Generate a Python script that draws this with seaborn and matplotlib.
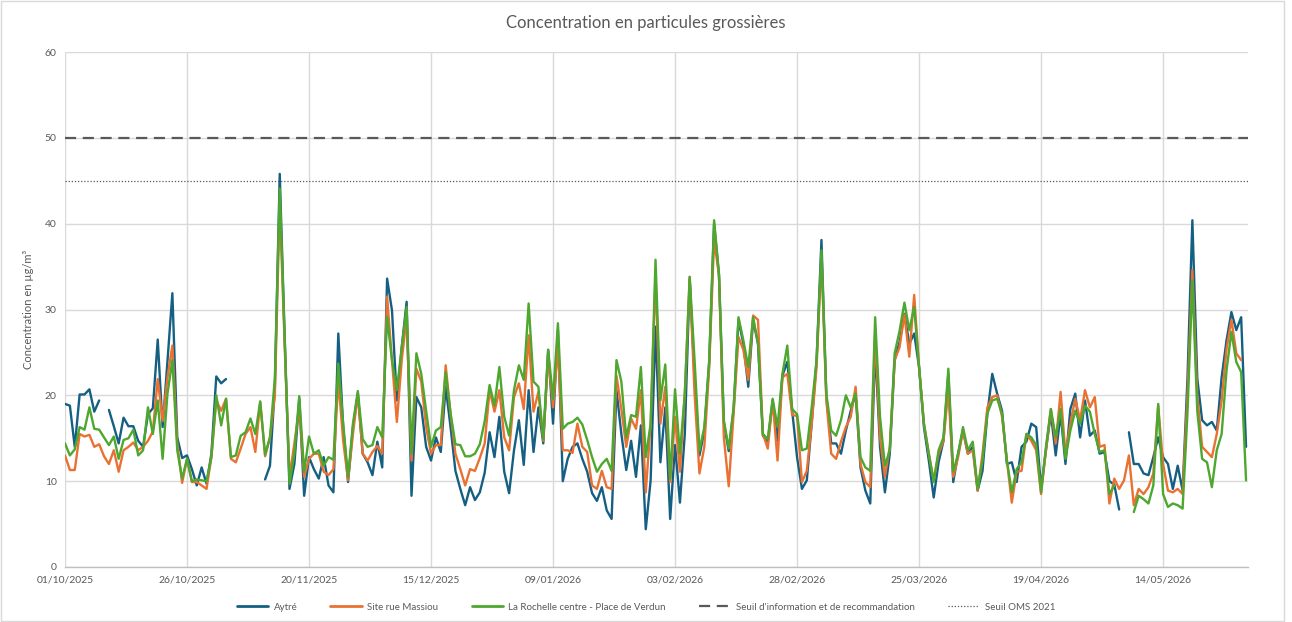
import numpy as np
import pandas as pd
import matplotlib
matplotlib.use("Agg")
import matplotlib.pyplot as plt
import matplotlib.dates as mdates
from matplotlib.lines import Line2D
from matplotlib.patches import Rectangle
import seaborn as sns

nan = np.nan
start_date = "2025-10-01"
n_days = 243

aytre = [
    19.0, 18.8, 14.0, 20.1, 20.1, 20.7, 18.1, 19.4, nan, 18.3,
    16.4, 14.4, 17.4, 16.4, 16.4, 14.7, 14.0, 17.8, 18.5, 26.5,
    16.3, 24.0, 31.9, 15.1, 12.7, 13.0, 11.4, 9.5, 11.6, 9.7,
    13.2, 22.2, 21.4, 21.9, nan, nan, nan, nan, nan, nan,
    nan, 10.2, 11.8, 21.0, 45.8, 27.0, 9.1, 12.0, 19.6, 8.3,
    12.8, 11.4, 10.3, 12.8, 9.5, 8.7, 27.2, 16.3, 9.9, 16.3,
    20.2, 13.2, 12.2, 10.7, 14.6, 11.6, 33.6, 29.9, 19.4, 25.6,
    30.9, 8.3, 19.8, 18.6, 14.0, 12.4, 15.1, 13.4, 21.0, 16.3,
    11.2, 9.1, 7.2, 9.3, 7.8, 8.7, 11.0, 15.7, 12.8, 17.5,
    11.1, 8.6, 13.6, 17.1, 11.9, 20.6, 13.4, 18.6, 14.4, 25.3,
    16.7, 27.6, 10.0, 12.6, 14.0, 14.4, 12.6, 11.1, 8.6, 7.7,
    9.3, 6.6, 5.6, 20.6, 15.5, 11.3, 14.7, 10.5, 16.5, 4.4,
    10.1, 28.0, 12.2, 18.6, 5.6, 14.2, 7.5, 15.5, 33.5, 22.0,
    13.0, 15.8, 23.8, 40.0, 34.0, 16.8, 13.5, 18.3, 28.8, 26.0,
    21.0, 28.8, 26.0, 15.3, 14.6, 19.4, 14.7, 22.3, 23.9, 18.2,
    12.8, 9.1, 10.1, 16.7, 24.1, 38.1, 19.8, 14.4, 14.4, 13.2,
    15.9, 18.2, 20.2, 11.6, 8.9, 7.4, 25.6, 14.0, 8.7, 13.2,
    24.1, 26.2, 29.5, 26.0, 27.2, 23.3, 16.3, 12.4, 8.1, 12.2,
    14.7, 22.5, 9.9, 13.2, 15.9, 13.2, 14.0, 8.9, 11.2, 17.9,
    22.5, 20.2, 18.2, 12.0, 12.2, 9.9, 14.0, 14.6, 16.7, 16.3,
    9.1, 13.6, 17.9, 13.0, 17.9, 12.0, 18.4, 20.2, 15.1, 19.4,
    15.3, 15.9, 13.2, 13.4, 10.0, 9.6, 6.7, nan, 15.7, 12.0,
    12.0, 10.9, 10.7, 12.8, 15.1, 12.8, 12.0, 9.1, 11.8, 8.9,
    22.0, 40.4, 22.0, 17.1, 16.5, 16.9, 15.9, 22.1, 26.4, 29.7,
    27.6, 29.1, 14.0,
]

massiou = [
    13.0, 11.3, 11.3, 15.5, 15.2, 15.4, 14.0, 14.3, 12.9, 12.0,
    13.6, 11.1, 13.6, 14.0, 14.5, 13.6, 14.0, 14.7, 15.8, 21.9,
    17.0, 22.1, 25.8, 14.4, 9.8, 12.6, 9.9, 9.9, 9.5, 9.1,
    12.8, 19.4, 18.2, 19.6, 12.6, 12.2, 13.8, 15.5, 16.3, 13.4,
    19.2, 12.9, 15.1, 20.0, 42.4, 26.0, 10.5, 14.4, 18.6, 10.5,
    12.6, 13.2, 13.2, 11.1, 10.7, 11.4, 21.8, 14.7, 10.1, 15.5,
    20.2, 13.2, 12.4, 13.4, 14.1, 13.2, 31.5, 24.1, 16.9, 24.1,
    29.1, 12.4, 23.1, 21.6, 16.3, 13.2, 14.2, 14.2, 23.5, 17.9,
    13.2, 11.4, 9.5, 11.4, 11.2, 12.7, 14.4, 20.6, 18.1, 20.6,
    15.1, 13.6, 19.8, 21.4, 18.4, 27.0, 18.1, 20.4, 14.7, 24.5,
    18.6, 25.6, 13.6, 13.6, 13.3, 16.7, 14.0, 13.4, 9.5, 9.1,
    11.2, 9.3, 9.1, 22.3, 18.4, 14.0, 17.3, 16.1, 20.6, 8.7,
    16.7, 34.0, 16.7, 21.0, 9.9, 17.5, 11.1, 20.2, 33.8, 20.2,
    10.9, 14.0, 23.3, 38.1, 34.0, 15.1, 9.4, 17.9, 26.8, 25.3,
    21.8, 29.3, 28.8, 15.5, 13.8, 19.4, 12.4, 22.1, 22.5, 17.7,
    17.6, 9.9, 11.2, 16.7, 23.3, 36.1, 19.4, 13.2, 12.6, 14.6,
    16.3, 17.5, 21.0, 12.0, 9.9, 9.3, 27.2, 15.1, 10.5, 14.0,
    24.1, 25.6, 29.4, 24.5, 31.7, 23.3, 16.7, 13.2, 10.1, 13.2,
    14.7, 20.6, 10.5, 12.8, 15.9, 13.2, 13.6, 8.9, 13.2, 18.6,
    19.8, 20.0, 17.5, 12.4, 7.5, 11.1, 11.2, 15.5, 14.7, 13.6,
    8.5, 13.6, 18.4, 14.4, 20.4, 13.2, 16.7, 19.6, 17.1, 20.6,
    18.6, 19.8, 14.0, 14.2, 7.4, 10.3, 9.1, 10.1, 13.0, 7.2,
    9.1, 8.5, 9.3, 10.9, 18.8, 12.0, 8.9, 8.7, 9.1, 8.5,
    20.0, 34.6, 20.0, 14.0, 13.4, 12.8, 15.5, 19.4, 25.4, 28.8,
    24.9, 24.1, nan,
]

verdun = [
    14.4, 13.0, 13.7, 16.3, 16.0, 18.6, 16.1, 16.0, 15.1, 14.2,
    15.2, 12.6, 14.8, 15.0, 16.0, 13.0, 13.6, 18.6, 15.5, 19.4,
    12.6, 20.2, 24.1, 13.6, 10.3, 12.6, 10.0, 10.2, 10.1, 10.0,
    12.8, 20.0, 16.5, 19.6, 12.8, 13.0, 15.3, 15.7, 17.3, 15.5,
    19.3, 13.1, 15.1, 22.0, 44.1, 27.0, 9.7, 13.2, 19.9, 11.1,
    15.2, 13.2, 13.6, 11.8, 12.8, 12.5, 23.7, 16.7, 10.5, 16.7,
    20.5, 14.9, 14.0, 14.2, 16.3, 15.1, 29.1, 24.1, 20.6, 25.6,
    30.3, 13.2, 24.9, 22.5, 18.2, 14.0, 15.9, 16.3, 22.7, 17.9,
    14.3, 14.2, 12.9, 12.9, 13.2, 14.3, 17.0, 21.2, 18.8, 23.3,
    17.5, 15.3, 20.6, 23.5, 21.8, 30.7, 21.6, 21.0, 14.9, 25.3,
    19.6, 28.4, 16.1, 16.7, 16.9, 17.4, 16.6, 14.8, 12.8, 11.1,
    12.0, 12.6, 11.2, 24.1, 21.6, 15.1, 17.7, 17.5, 23.3, 12.8,
    16.7, 35.8, 19.4, 23.6, 10.3, 20.7, 13.2, 20.2, 33.8, 24.1,
    13.6, 16.3, 24.1, 40.4, 34.2, 17.1, 13.8, 18.6, 29.1, 26.4,
    23.3, 29.1, 26.0, 15.5, 14.9, 19.6, 16.3, 22.5, 25.8, 18.4,
    17.8, 13.6, 13.8, 18.6, 24.1, 36.9, 20.2, 15.9, 15.3, 17.1,
    20.0, 18.6, 20.2, 12.8, 11.6, 11.2, 29.1, 17.5, 11.8, 13.6,
    24.9, 27.5, 30.8, 27.6, 30.3, 23.3, 16.7, 13.2, 9.9, 13.6,
    15.1, 23.1, 11.1, 13.2, 16.3, 13.6, 14.6, 9.1, 12.4, 17.9,
    19.4, 19.6, 17.9, 12.4, 8.7, 11.4, 12.2, 15.5, 15.1, 14.2,
    8.7, 14.0, 18.4, 15.1, 18.4, 12.6, 15.9, 18.2, 16.7, 18.8,
    18.1, 15.5, 13.4, 13.6, 8.5, 9.5, nan, nan, nan, 6.4,
    8.3, 7.9, 7.4, 9.5, 19.0, 8.5, 7.0, 7.4, 7.2, 6.8,
    18.0, 33.4, 18.2, 12.6, 12.2, 9.3, 13.6, 15.5, 22.9, 27.4,
    23.9, 22.7, 10.1,
]

series_names = ["Aytré", "Site rue Massiou", "La Rochelle centre - Place de Verdun"]
series_colors = ["#156082", "#E97132", "#4EA72E"]
seuil_info = 50
seuil_oms = 45
seuil_labels = ["Seuil d'information et de recommandation", "Seuil OMS 2021"]
title = "Concentration en particules grossières"
ylabel = "Concentration en µg/m³"

dates = pd.date_range(start_date, periods=n_days, freq="D")

frames = []
for name, vals in zip(series_names, [aytre, massiou, verdun]):
    v = np.array(vals, dtype=float)
    seg = np.cumsum(np.isnan(v))
    d = pd.DataFrame({"date": dates, "value": v, "series": name, "seg": seg})
    frames.append(d.dropna())
df = pd.concat(frames, ignore_index=True)

sns.set_theme(style="white")
plt.rcParams["font.family"] = ["Lato", "DejaVu Sans"]
text_color = "#595959"

fig = plt.figure(figsize=(12.92, 6.22), dpi=100)
ax = fig.add_axes([65 / 1292, 1 - 567 / 622, (1248 - 65) / 1292, (567 - 52) / 622])

sns.lineplot(data=df, x="date", y="value", hue="series", units="seg",
             estimator=None, palette=dict(zip(series_names, series_colors)),
             hue_order=series_names, linewidth=1.7, ax=ax, legend=False)

ax.axhline(seuil_info, color="#595959", linestyle=(0, (5, 3)), linewidth=1.6, zorder=1)
ax.axhline(seuil_oms, color="#595959", linestyle=(0, (1, 1.5)), linewidth=0.9, zorder=1)

ax.set_ylim(0, 60)
ax.set_yticks(range(0, 61, 10))
ax.set_xlim(dates[0], dates[0] + pd.Timedelta(days=242.4))
xt = pd.date_range(start_date, periods=10, freq="25D")
ax.set_xticks(xt)
ax.xaxis.set_major_formatter(mdates.DateFormatter("%d/%m/%Y"))

ax.grid(True, color="#D9D9D9", linewidth=1.0)
ax.set_axisbelow(True)
for s in ["top", "right", "left"]:
    ax.spines[s].set_visible(False)
ax.spines["bottom"].set_color("#BFBFBF")
ax.spines["bottom"].set_linewidth(1.0)
ax.tick_params(axis="both", length=0, labelsize=7.5, colors=text_color, pad=6)

ax.set_xlabel("")
ax.set_ylabel(ylabel, fontsize=8, color=text_color, labelpad=8)
fig.text(0.5, 0.963, title, ha="center", va="center", fontsize=12, color=text_color)

handles = [Line2D([0], [0], color=c, lw=2) for c in series_colors]
handles.append(Line2D([0], [0], color="#595959", lw=1.6, linestyle=(0, (5, 3))))
handles.append(Line2D([0], [0], color="#595959", lw=0.9, linestyle=(0, (1, 1.5))))
leg = fig.legend(handles, series_names + seuil_labels, loc="center",
                 bbox_to_anchor=(0.5, 0.024), ncol=5, frameon=False,
                 fontsize=7, handlelength=3.2, columnspacing=3.4, handletextpad=0.6)
for t in leg.get_texts():
    t.set_color(text_color)

fig.patches.append(Rectangle((0.001, 0.002), 0.993, 0.996, transform=fig.transFigure,
                             fill=False, edgecolor="#D9D9D9", linewidth=1.0))

fig.savefig("out.png", dpi=100)
